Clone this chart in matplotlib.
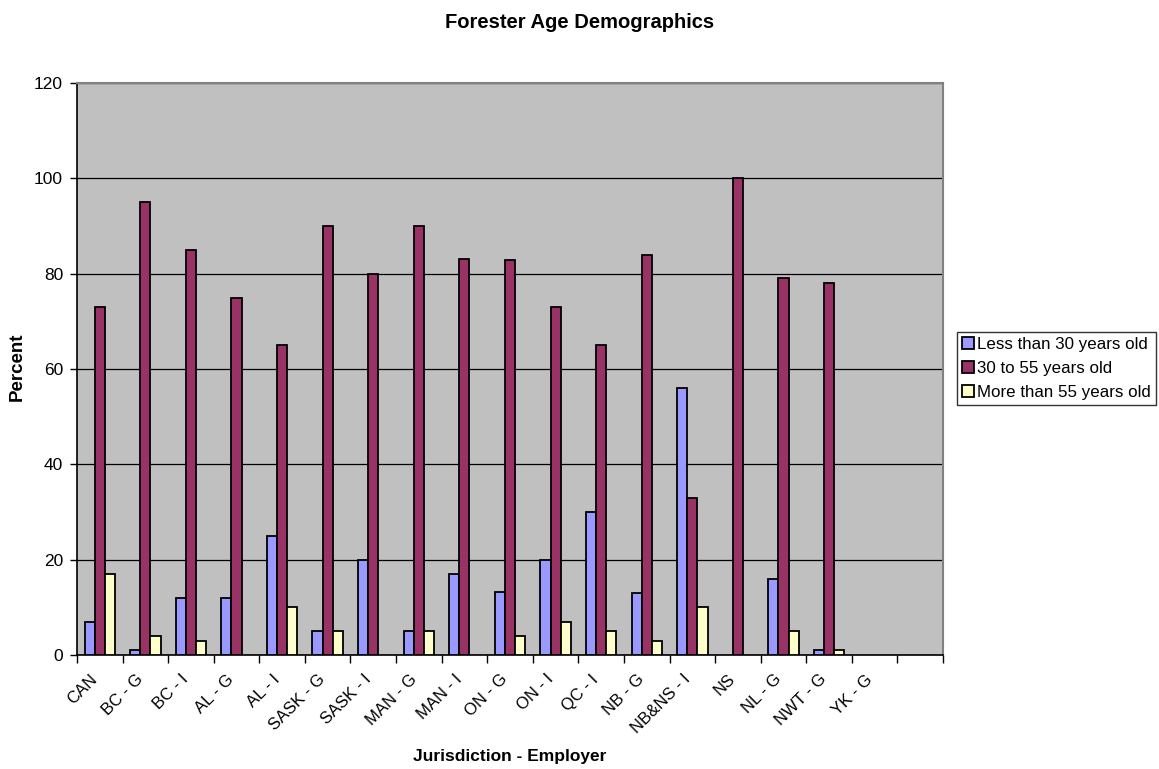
import numpy as np
import matplotlib
matplotlib.use("Agg")
import matplotlib.pyplot as plt
from matplotlib.transforms import ScaledTranslation

plt.rcParams['font.family'] = ['Liberation Sans', 'DejaVu Sans']

categories = ["CAN", "BC - G", "BC - I", "AL - G", "AL - I", "SASK - G", "SASK - I",
              "MAN - G", "MAN - I", "ON - G", "ON - I", "QC - I", "NB - G",
              "NB&NS - I", "NS", "NL - G", "NWT - G", "YK - G", ""]
under_30 = [7, 1, 12, 12, 25, 5, 20, 5, 17, 13.2, 20, 30, 13, 56, 0, 16, 1, 0, 0]
age_30_55 = [73, 95, 85, 75, 65, 90, 80, 90, 83, 82.8, 73, 65, 84, 33, 100, 79, 78, 0, 0]
over_55 = [17, 4, 3, 0, 10, 5, 0, 5, 0, 4, 7, 5, 3, 10, 0, 5, 1, 0, 0]
series_names = ["Less than 30 years old", "30 to 55 years old", "More than 55 years old"]
colors = ["#9999FF", "#993366", "#FFFFCC"]

fig = plt.figure(figsize=(11.59, 7.69), dpi=100)
ax = fig.add_axes([77/1159, 114/769, 866/1159, 572/769])
ax.set_facecolor("#C0C0C0")

x = np.arange(len(categories))
w = 1 / 4.5
for i, (vals, name, c) in enumerate(zip([under_30, age_30_55, over_55], series_names, colors)):
    vals = np.array(vals, dtype=float)
    mask = vals > 0
    ax.bar(x[mask] + (i - 1) * w, vals[mask], width=w, color=c, edgecolor="black",
           linewidth=1.3, label=name, zorder=3)

ax.set_xlim(-0.5, len(categories) - 0.5)
ax.set_ylim(0, 120)
ax.set_yticks(np.arange(0, 121, 20))
ax.yaxis.grid(True, color="black", linewidth=0.9, zorder=1)
ax.set_axisbelow(True)

ax.set_xticks(np.arange(len(categories) + 1) - 0.5, minor=False)
ax.set_xticklabels([])
ax.set_xticks(x, minor=True)
ax.set_xticklabels(categories, minor=True, rotation=45, ha="right",
                   rotation_mode="anchor", fontsize=12)
ax.tick_params(axis="x", which="minor", length=0, pad=12)
ax.tick_params(axis="x", which="major", length=6, width=1, direction="out")
ax.tick_params(axis="y", length=5, width=1, direction="out", labelsize=12.5, pad=5)
shift = ScaledTranslation(-10/100, 0, fig.dpi_scale_trans)
for lab in ax.xaxis.get_minorticklabels():
    lab.set_transform(lab.get_transform() + shift)

for s in ["top", "right"]:
    ax.spines[s].set_color("#808080")
    ax.spines[s].set_linewidth(1.5)
for s in ["left", "bottom"]:
    ax.spines[s].set_color("black")
    ax.spines[s].set_linewidth(1.2)

fig.text(17/1159, 1 - 367/769, "Percent", rotation=90, ha="center", va="center",
         fontsize=13.5, fontweight="bold")
fig.text(510/1159, 1 - 757/769, "Jurisdiction - Employer", ha="center", va="center",
         fontsize=12.5, fontweight="bold")
fig.text(0.5, 1 - 22/769, "Forester Age Demographics", ha="center", va="center",
         fontsize=14.5, fontweight="bold")

leg = ax.legend(loc="center left", bbox_to_anchor=((957 - 77)/866, (655 - 368.5)/572),
                frameon=True, fancybox=False, fontsize=12.2, handlelength=0.72,
                handleheight=0.72, handletextpad=0.15, labelspacing=0.55,
                borderpad=0.3, borderaxespad=0)
leg.get_frame().set_edgecolor("black")
leg.get_frame().set_linewidth(1.0)

fig.savefig("out.png", dpi=100)
